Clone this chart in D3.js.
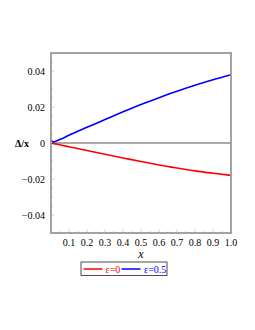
<!DOCTYPE html>
<html>
<head>
<meta charset="utf-8">
<script src="https://cdn.jsdelivr.net/npm/d3@7"></script>
<style>
  body { margin: 0; background: #fff; }
</style>
</head>
<body>
<div id="chart"></div>
<script>
// Data
const xTicks = [0.1, 0.2, 0.3, 0.4, 0.5, 0.6, 0.7, 0.8, 0.9, 1.0];
const yTicks = [-0.04, -0.02, 0, 0.02, 0.04];
const xs = [0, 0.012, 0.03, 0.06, 0.1, 0.2, 0.3, 0.4, 0.5, 0.6, 0.7, 0.8, 0.9, 1.0];
const eps0 = [0, -0.0003, -0.0006, -0.0012, -0.0021, -0.0042, -0.0063, -0.0083, -0.0103, -0.0122, -0.0139, -0.0155, -0.0168, -0.018];
const eps05 = [0.0016, 0.0006, 0.0011, 0.0024, 0.0043, 0.0087, 0.013, 0.0173, 0.0214, 0.0252, 0.0288, 0.0321, 0.0351, 0.0379];
const seriesNames = ["ε=0", "ε=0.5"];
const seriesColors = ["#ff0000", "#0000ff"];

const config = {
    width: 255,
    height: 330,
    margin: { top: 53, right: 24, bottom: 97, left: 51 },
    font: "'Liberation Serif', 'Times New Roman', serif"
};

const svg = d3.select("#chart").append("svg")
    .attr("width", config.width)
    .attr("height", config.height)
    .attr("font-family", config.font)
    .style("display", "block");

const x = d3.scaleLinear().domain([0, 1]).range([config.margin.left, config.width - config.margin.right]);
const y = d3.scaleLinear().domain([-0.05, 0.05]).range([config.height - config.margin.bottom, config.margin.top]);

// zero line
svg.append("line")
    .attr("x1", x(0)).attr("x2", x(1))
    .attr("y1", y(0)).attr("y2", y(0))
    .attr("stroke", "#555").attr("stroke-width", 1);

// minor ticks on left and bottom axes
const minorY = d3.range(-0.045, 0.05, 0.005);
svg.selectAll(".ytick")
    .data(minorY)
    .enter().append("line")
    .attr("x1", x(0)).attr("x2", d => x(0) + (Math.abs(Math.round(d * 1000) % 20) === 0 ? 4 : 2))
    .attr("y1", d => y(d)).attr("y2", d => y(d))
    .attr("stroke", "#bbb").attr("stroke-width", 0.6);
const minorX = d3.range(0.05, 1, 0.05);
svg.selectAll(".xtick")
    .data(minorX)
    .enter().append("line")
    .attr("x1", d => x(d)).attr("x2", d => x(d))
    .attr("y1", y(-0.05)).attr("y2", d => y(-0.05) - (Math.round(d * 100) % 10 === 0 ? 4 : 2))
    .attr("stroke", "#bbb").attr("stroke-width", 0.6);

// curves
const line = d3.line().x((d, i) => x(xs[i])).y(d => y(d)).curve(d3.curveMonotoneX);
[eps0, eps05].forEach((s, k) => {
    svg.append("path")
        .attr("d", line(s))
        .attr("fill", "none")
        .attr("stroke", seriesColors[k])
        .attr("stroke-width", 1.6);
});

// frame
svg.append("rect")
    .attr("x", x(0)).attr("y", y(0.05))
    .attr("width", x(1) - x(0)).attr("height", y(-0.05) - y(0.05))
    .attr("fill", "none").attr("stroke", "#999").attr("stroke-width", 1.8);

// y tick labels
svg.selectAll(".ylab")
    .data(yTicks)
    .enter().append("text")
    .attr("x", 45).attr("y", d => y(d) + 3.5)
    .attr("text-anchor", "end")
    .attr("font-size", "10px")
    .text(d => d === 0 ? "0" : d3.format(".2f")(d).replace("-", "\u2212"));

// x tick labels
svg.selectAll(".xlab")
    .data(xTicks)
    .enter().append("text")
    .attr("x", d => x(d)).attr("y", 246)
    .attr("text-anchor", "middle")
    .attr("font-size", "10px")
    .text(d => d3.format(".1f")(d));

// axis titles
svg.append("text")
    .attr("x", 22).attr("y", 147)
    .attr("text-anchor", "middle")
    .attr("font-size", "10px").attr("font-weight", "bold")
    .text("Δ/x");
svg.append("text")
    .attr("x", x(0.5)).attr("y", 258)
    .attr("text-anchor", "middle")
    .attr("font-size", "12px").attr("font-style", "italic")
    .text("x");

// legend
const lg = svg.append("g").attr("transform", "translate(81,262)");
lg.append("rect").attr("width", 86).attr("height", 13.5)
    .attr("fill", "#fff").attr("stroke", "#222").attr("stroke-width", 0.8);
const items = [{ x: 2.5, tx: 24.5 }, { x: 40.5, tx: 63 }];
items.forEach((it, k) => {
    lg.append("line")
        .attr("x1", it.x).attr("x2", it.x + 19)
        .attr("y1", 7).attr("y2", 7)
        .attr("stroke", seriesColors[k]).attr("stroke-width", 1.5);
    lg.append("text")
        .attr("x", it.tx).attr("y", 10.5)
        .attr("fill", seriesColors[k])
        .attr("font-size", "10px")
        .text(seriesNames[k]);
});
</script>
</body>
</html>
